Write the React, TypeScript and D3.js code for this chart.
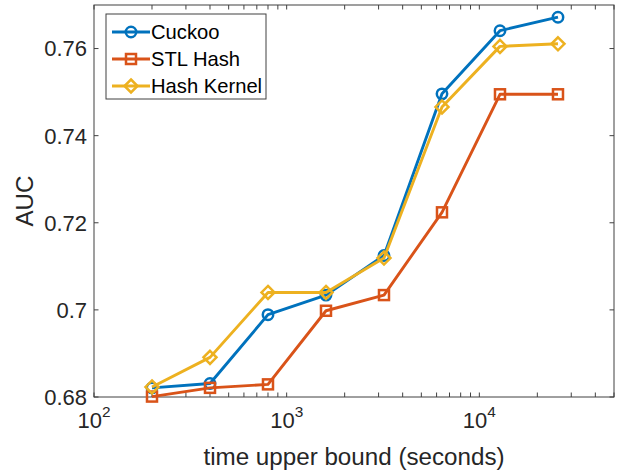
import React, { useEffect, useRef } from 'react';
import * as d3 from 'd3';

// AUC vs time upper bound, log x axis

const times = [200, 400, 800, 1600, 3200, 6400, 12800, 25600];
const cuckoo = [0.6821, 0.6831, 0.6989, 0.7034, 0.7125, 0.7496, 0.7641, 0.7672];
const stlHash = [0.6801, 0.6821, 0.6829, 0.6998, 0.7034, 0.7224, 0.7495, 0.7495];
const hashKernel = [0.6823, 0.6891, 0.7040, 0.7040, 0.7119, 0.7466, 0.7605, 0.7611];
const seriesNames = ['Cuckoo', 'STL Hash', 'Hash Kernel'];
const yTicks = [0.68, 0.7, 0.72, 0.74, 0.76];
const yTickLabels = ['0.68', '0.7', '0.72', '0.74', '0.76'];
const xTicks = [100, 1000, 10000];
const xTickExps = ['2', '3', '4'];

const colors = ['#0072BD', '#D95319', '#EDB120'];
const font = '"Liberation Sans", Arial, Helvetica, sans-serif';

function App() {
  const ref = useRef<SVGSVGElement>(null);

  useEffect(() => {
    const svg = d3.select(ref.current);
    svg.selectAll('*').remove();

    const left = 94, right = 614, top = 5, bottom = 397;
    const x = d3.scaleLog().domain([100, 50000]).range([left, right]);
    const y = d3.scaleLinear().domain([0.68, 0.77]).range([bottom, top]);
    const axisColor = '#404040';
    const tickLen = 4.5;

    // box
    svg.append('rect')
      .attr('x', left).attr('y', top)
      .attr('width', right - left).attr('height', bottom - top)
      .attr('fill', 'white');

    // x ticks (major + minor), bottom and top
    const minor: number[] = [];
    for (let e = 2; e <= 4; e++) {
      for (let m = 1; m <= 9; m++) {
        const v = m * Math.pow(10, e);
        if (v >= 100 && v <= 50000) minor.push(v);
      }
    }
    const g = svg.append('g');
    minor.forEach(v => {
      g.append('line').attr('x1', x(v)).attr('x2', x(v))
        .attr('y1', bottom).attr('y2', bottom - tickLen)
        .attr('stroke', axisColor).attr('stroke-width', 1);
      g.append('line').attr('x1', x(v)).attr('x2', x(v))
        .attr('y1', top).attr('y2', top + tickLen)
        .attr('stroke', axisColor).attr('stroke-width', 1);
    });
    yTicks.forEach(v => {
      g.append('line').attr('x1', left).attr('x2', left + tickLen)
        .attr('y1', y(v)).attr('y2', y(v))
        .attr('stroke', axisColor).attr('stroke-width', 1);
      g.append('line').attr('x1', right).attr('x2', right - tickLen)
        .attr('y1', y(v)).attr('y2', y(v))
        .attr('stroke', axisColor).attr('stroke-width', 1);
    });

    // tick labels
    yTicks.forEach((v, i) => {
      svg.append('text')
        .attr('x', left - 7).attr('y', y(v))
        .attr('dy', '0.36em')
        .attr('text-anchor', 'end')
        .attr('font-family', font).attr('font-size', 22)
        .attr('fill', '#262626')
        .text(yTickLabels[i]);
    });
    xTicks.forEach((v, i) => {
      const t = svg.append('text')
        .attr('x', x(v)).attr('y', 428)
        .attr('text-anchor', 'middle')
        .attr('font-family', font).attr('font-size', 22)
        .attr('fill', '#262626');
      t.append('tspan').text('10');
      t.append('tspan').attr('font-size', 15.4).attr('dy', -11).text(xTickExps[i]);
    });

    // axis labels
    svg.append('text')
      .attr('x', (left + right) / 2).attr('y', 465)
      .attr('text-anchor', 'middle')
      .attr('font-family', font).attr('font-size', 24.2)
      .attr('fill', '#262626')
      .text('time upper bound (seconds)');
    svg.append('text')
      .attr('transform', `translate(33, ${(top + bottom) / 2}) rotate(-90)`)
      .attr('text-anchor', 'middle')
      .attr('font-family', font).attr('font-size', 24.2)
      .attr('fill', '#262626')
      .text('AUC');

    // box outline
    svg.append('rect')
      .attr('x', left).attr('y', top)
      .attr('width', right - left).attr('height', bottom - top)
      .attr('fill', 'none').attr('stroke', axisColor).attr('stroke-width', 1);

    const allSeries = [cuckoo, stlHash, hashKernel];
    const line = d3.line<number>()
      .x((d, i) => x(times[i]))
      .y(d => y(d));

    const drawMarker = (sel: any, k: number, cx: number, cy: number) => {
      if (k === 0) {
        sel.append('circle').attr('cx', cx).attr('cy', cy).attr('r', 5.2)
          .attr('fill', 'none').attr('stroke', colors[k]).attr('stroke-width', 2.5);
      } else if (k === 1) {
        sel.append('rect').attr('x', cx - 5).attr('y', cy - 5)
          .attr('width', 10).attr('height', 10)
          .attr('fill', 'none').attr('stroke', colors[k]).attr('stroke-width', 2.5);
      } else {
        const s = 6.5;
        sel.append('path')
          .attr('d', `M${cx},${cy - s}L${cx + s},${cy}L${cx},${cy + s}L${cx - s},${cy}Z`)
          .attr('fill', 'none').attr('stroke', colors[k]).attr('stroke-width', 2.5);
      }
    };

    allSeries.forEach((vals, k) => {
      const sg = svg.append('g');
      sg.append('path')
        .attr('d', line(vals))
        .attr('fill', 'none')
        .attr('stroke', colors[k])
        .attr('stroke-width', 2.9)
        .attr('stroke-linejoin', 'round');
      vals.forEach((v, i) => drawMarker(sg, k, x(times[i]), y(v)));
    });

    // legend
    const lg = svg.append('g');
    lg.append('rect')
      .attr('x', 106).attr('y', 14).attr('width', 160).attr('height', 85)
      .attr('fill', 'white').attr('stroke', axisColor).attr('stroke-width', 1);
    seriesNames.forEach((name, k) => {
      const cy = 32 + k * 27;
      lg.append('line').attr('x1', 112).attr('x2', 150)
        .attr('y1', cy).attr('y2', cy)
        .attr('stroke', colors[k]).attr('stroke-width', 2.9);
      drawMarker(lg, k, 131, cy);
      lg.append('text')
        .attr('x', 151).attr('y', cy).attr('dy', '0.36em')
        .attr('font-family', font).attr('font-size', 20.2)
        .attr('fill', '#000')
        .text(name);
    });
  }, []);

  return (
    <div style={{ position: 'absolute', left: 0, top: 0 }}>
      <svg ref={ref} width={620} height={473} style={{ display: 'block', background: 'white' }}></svg>
    </div>
  );
}

export default App;
